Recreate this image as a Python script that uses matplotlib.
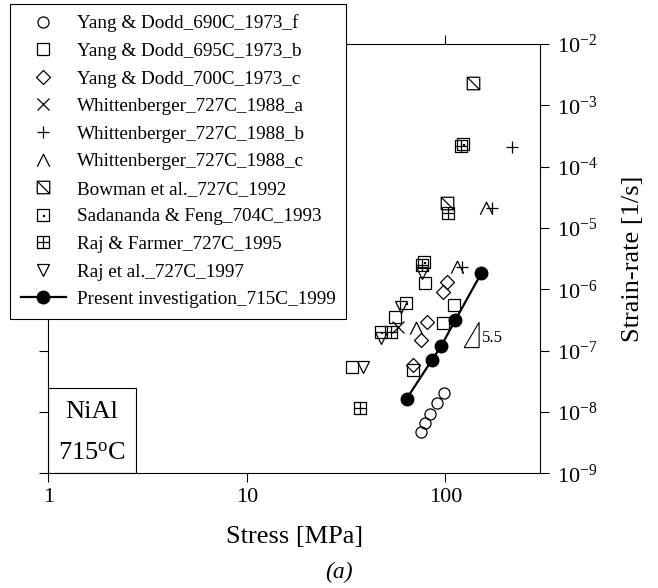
import matplotlib
matplotlib.use('Agg')
import matplotlib.pyplot as plt
from matplotlib.path import Path
from matplotlib.lines import Line2D
from matplotlib.patches import Rectangle, Polygon
from matplotlib import ticker

plt.rcParams['font.family'] = 'serif'
plt.rcParams['font.serif'] = ['Liberation Serif', 'DejaVu Serif']
plt.rcParams['mathtext.fontset'] = 'custom'
plt.rcParams['mathtext.rm'] = 'Liberation Serif'
plt.rcParams['mathtext.it'] = 'Liberation Serif:italic'

# --- data (stress in MPa, strain-rate in 1/s) ---
yd690_s = [98.9, 91.2, 84.1, 79.3, 75.7]
yd690_e = [2.0e-8, 1.42e-8, 9.4e-9, 6.7e-9, 4.8e-9]

yd695_s = [79.3, 111, 56, 97, 69, 33.7]
yd695_e = [1.28e-6, 5.6e-7, 3.5e-7, 2.8e-7, 4.9e-8, 5.5e-8]

yd700_s = [102, 96.9, 81, 75.7, 69]
yd700_e = [1.33e-6, 9.1e-7, 2.9e-7, 1.5e-7, 5.9e-8]

wa_s = [57.5]
wa_e = [2.4e-7]

wb_s = [217, 171, 121]
wb_e = [2.1e-4, 2.1e-5, 2.3e-6]

wc_s = [161, 115, 71.5]
wc_e = [2.1e-5, 2.3e-6, 2.3e-7]

bow_s = [138, 102]
bow_e = [2.3e-3, 2.6e-5]

sf_s = [123, 78, 63.5, 47.7]
sf_e = [2.3e-4, 2.8e-6, 6.0e-7, 2.0e-7]

rf_s = [120, 103, 76.6, 53.5, 37]
rf_e = [2.2e-4, 1.77e-5, 2.5e-6, 2.0e-7, 1.17e-8]

raj_s = [76.6, 60, 47.7, 38.3]
raj_e = [1.86e-6, 5.2e-7, 1.6e-7, 5.5e-8]

pres_s = [63.9, 85.8, 95.5, 112, 152]
pres_e = [1.65e-8, 7.1e-8, 1.2e-7, 3.1e-7, 1.84e-6]

# custom marker shapes
M, L, C = Path.MOVETO, Path.LINETO, Path.CLOSEPOLY
caret = Path([(-1, -1), (0, 1), (1, -1)], [M, L, L])
box_diag = Path([(-1, -1), (1, -1), (1, 1), (-1, 1), (0, 0), (-1, 1), (1, -1)],
                [M, L, L, L, C, M, L])
box_plus = Path([(-1, -1), (1, -1), (1, 1), (-1, 1), (0, 0),
                 (0, -1), (0, 1), (-1, 0), (1, 0)],
                [M, L, L, L, C, M, L, M, L])
box_dot = Path([(-1, -1), (1, -1), (1, 1), (-1, 1), (0, 0),
                (-0.08, -0.08), (0.08, -0.08), (0.08, 0.08), (-0.08, 0.08), (0, 0)],
               [M, L, L, L, C, M, L, L, L, C])

fig = plt.figure(figsize=(6.58, 5.88), dpi=100)
ax = fig.add_axes([0.0734, 0.1951, 0.7473, 0.7301])

kw = dict(ls='none', color='black', mfc='none', mew=0.9)
h = []
h += ax.plot(yd690_s, yd690_e, marker='o', ms=8, label='Yang & Dodd_690C_1973_f', **kw)
h += ax.plot(yd695_s, yd695_e, marker='s', ms=9, label='Yang & Dodd_695C_1973_b', **kw)
h += ax.plot(yd700_s, yd700_e, marker='D', ms=7, label='Yang & Dodd_700C_1973_c', **kw)
h += ax.plot(wa_s, wa_e, marker='x', ms=8, label='Whittenberger_727C_1988_a', **kw)
h += ax.plot(wb_s, wb_e, marker='+', ms=9, label='Whittenberger_727C_1988_b', **kw)
h += ax.plot(wc_s, wc_e, marker=caret, ms=9, label='Whittenberger_727C_1988_c', **kw)
h += ax.plot(bow_s, bow_e, marker=box_diag, ms=9, label='Bowman et al._727C_1992', **kw)
h += ax.plot(sf_s, sf_e, marker=box_dot, ms=9, label='Sadananda & Feng_704C_1993', **kw)
h += ax.plot(rf_s, rf_e, marker=box_plus, ms=9, label='Raj & Farmer_727C_1995', **kw)
h += ax.plot(raj_s, raj_e, marker='v', ms=8, label='Raj et al._727C_1997', **kw)
h += ax.plot(pres_s, pres_e, marker='o', ms=9, color='black', lw=1.6,
             label='Present investigation_715C_1999')

ax.set_xscale('log')
ax.set_yscale('log')
ax.set_xlim(1, 300)
ax.set_ylim(1e-9, 1e-2)

ax.xaxis.set_major_locator(ticker.FixedLocator([1, 10, 100]))
ax.xaxis.set_major_formatter(ticker.FuncFormatter(lambda v, p: f'{v:g}'))
ax.xaxis.set_minor_locator(ticker.NullLocator())
ax.yaxis.set_major_locator(ticker.LogLocator(base=10, numticks=12))
ax.yaxis.set_minor_locator(ticker.NullLocator())
ax.tick_params(direction='out', length=6.5, width=0.8, labelsize=16,
               top=True, right=True, left=True, bottom=True,
               labelleft=False, labelright=True)
ax.tick_params(axis='x', pad=4)
ax.tick_params(axis='y', pad=6)
for sp in ax.spines.values():
    sp.set_linewidth(0.8)

ax.set_xlabel('Stress [MPa]', fontsize=19, labelpad=14)
ax.yaxis.set_label_position('right')
ax.set_ylabel('Strain-rate [1/s]', fontsize=19, labelpad=17)

# slope triangle
tri = Polygon([(124.5, 1.12e-7), (148, 1.12e-7), (148, 2.9e-7)], closed=True,
              fill=False, ec='black', lw=0.8)
ax.add_patch(tri)
ax.text(153, 1.6e-7, '5.5', fontsize=12, va='center', ha='left')

# material box
ax.add_patch(Rectangle((0, 0), 0.178, 0.199, transform=ax.transAxes,
                       fill=False, ec='black', lw=0.8))
ax.text(0.089, 0.143, 'NiAl', transform=ax.transAxes, fontsize=19,
        ha='center', va='center')
ax.text(0.089, 0.045, r'715$^{\mathrm{o}}$C', transform=ax.transAxes, fontsize=19,
        ha='center', va='center')

leg = fig.legend(handles=h, loc='upper left', bbox_to_anchor=(10 / 658, 1 - 4 / 588),
                 fontsize=13.8, frameon=True, fancybox=False, framealpha=1,
                 edgecolor='black', handlelength=2.35, handletextpad=0.57,
                 borderpad=0.55, labelspacing=0.53, borderaxespad=0)
leg.get_frame().set_linewidth(0.8)

fig.text(339 / 658, 1 - 572 / 588, '(a)', fontsize=17, style='italic',
         ha='center', va='center')

fig.savefig('out.png', dpi=100)
